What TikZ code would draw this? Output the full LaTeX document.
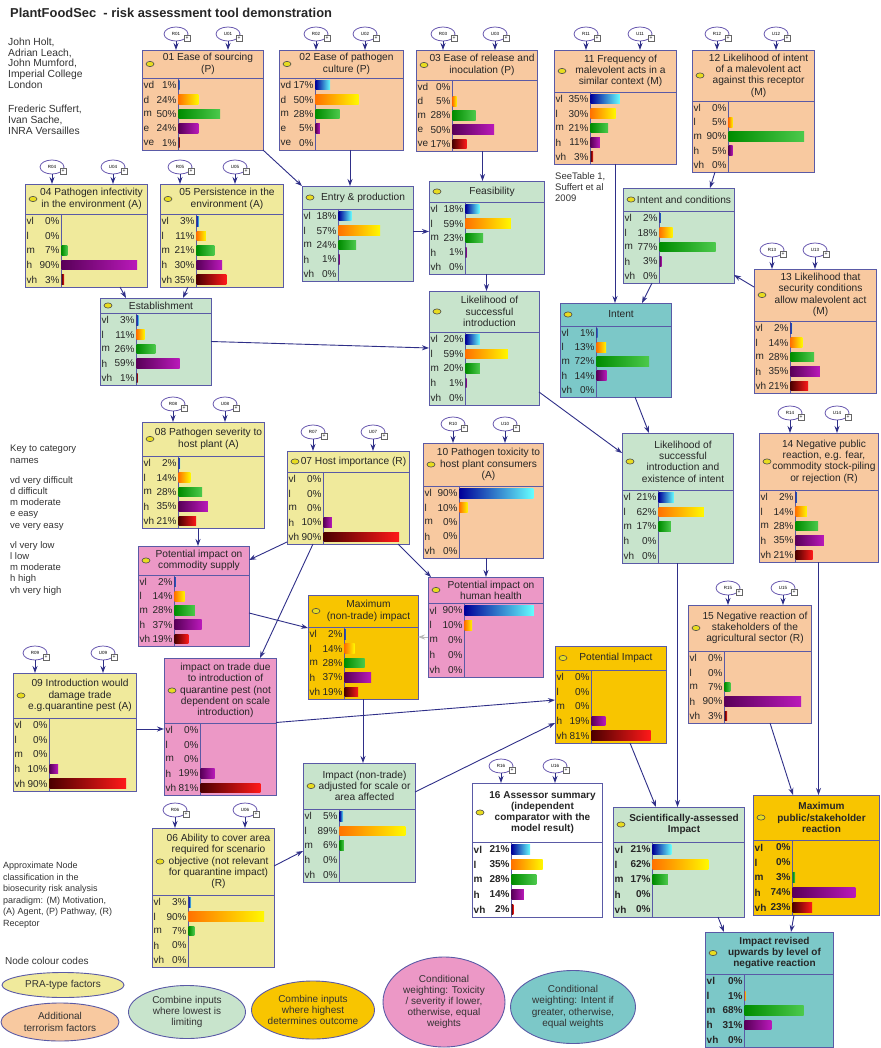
\documentclass[tikz,border=0pt]{standalone}
\usepackage{fontspec}
\setmainfont{Liberation Sans}
\usetikzlibrary{shapes.geometric,arrows.meta}

\definecolor{cpeach}{HTML}{F8C9A0}
\definecolor{cyel}{HTML}{F0EA9C}
\definecolor{cgreen}{HTML}{C8E4CC}
\definecolor{corange}{HTML}{F8C500}
\definecolor{cpink}{HTML}{EC98C6}
\definecolor{cteal}{HTML}{7CC8C8}
\definecolor{cborder}{HTML}{5A5AA6}
\definecolor{carrow}{HTML}{2F2F88}
\definecolor{cicon}{HTML}{E8DC20}
\definecolor{cruell}{HTML}{6A5AB0}

\newif\ifboldnode
\newcommand{\bn}[9]{%
  \ifboldnode\def\lcw{39}\def\nf{\bfseries}\def\tts{ttextb}\else\def\lcw{36}\def\nf{}\def\tts{ttext}\fi
  \pgfmathsetmacro{\bxr}{#2+#4}%
  \pgfmathsetmacro{\bym}{(#3+#5)/2}%
  \pgfmathsetmacro{\brh}{(#6-#5)/5}%
  \pgfmathsetmacro{\bsc}{(#4-\lcw-2)/100}%
  \node[nbox, fill=#7, minimum width=#4pt, minimum height={(#6-#3)*1pt}, anchor=north west] (#1) at (#2,#3) {};
  \draw[nline] (#2,#5) -- (\bxr,#5);
  \draw[nline] ({#2+\lcw},#5) -- ({#2+\lcw},#6);
  \draw[draw=black!70, fill=cicon, line width=0.6pt] ({#2+8},\bym) ellipse (4pt and 2.6pt);
  \node[\tts] at ({#2+#4/2+5.5},\bym) {#8};
  \foreach \lab/\val [count=\i] in {#9} {%
    \pgfmathsetmacro{\yc}{#5+(\i-0.5)*\brh}%
    \node[lab, anchor=west] at ({#2+1.5},\yc) {\nf\lab};
    \node[lab, anchor=east] at ({#2+\lcw-1.2},\yc) {\nf\val\%};
    \ifnum\val>0
      \pgfmathsetmacro{\bw}{max(1.2,\val*\bsc)}%
      \path[bar\i] ({#2+\lcw+0.5},{\yc-4.8}) rectangle ++(\bw,9.6);
    \fi
  }%
}
\newcommand{\ru}[4]{%
  \node[ruell] (#1) at (#3) {#2};
  \node[rubox] at ([xshift=11pt,yshift=-4pt]#1.center) {+};
  \draw[arr] (#1.south) -- (#1.south |- #4.north);
}

\tikzset{
  nbox/.style={draw=cborder, line width=0.9pt, rectangle, inner sep=0pt, outer sep=0pt},
  nline/.style={draw=cborder, line width=0.9pt},
  ttext/.style={align=center, inner sep=0pt, font=\fontsize{10.2}{11.3}\selectfont, text=black!85},
  ttextb/.style={align=center, inner sep=0pt, font=\fontsize{10}{11.3}\selectfont\bfseries, text=black!85},
  lab/.style={inner sep=0pt, font=\fontsize{10}{11}\selectfont, text=black!85},
  arr/.style={draw=carrow, line width=0.9pt, -{Stealth[length=7pt,width=5pt]}},
  garr/.style={draw=gray!55, line width=0.9pt, -{Stealth[length=7pt,width=5pt]}},
  bar1/.style={left color=blue!60!black, right color=cyan!60},
  bar2/.style={left color=orange!90!red, right color=yellow!95!orange},
  bar3/.style={left color=green!55!black, right color=green!70!black!70},
  bar4/.style={left color=violet!70!black, right color=magenta!70!black!90},
  bar5/.style={left color=red!30!black, right color=red!90},
  ruell/.style={ellipse, draw=cruell, line width=0.8pt, fill=white, minimum width=24pt, minimum height=14pt, inner sep=0pt, font=\fontsize{4.5}{5}\selectfont},
  rubox/.style={rectangle, draw=gray!80!black, line width=0.5pt, fill=white, minimum size=6pt, inner sep=0pt, font=\fontsize{5}{5}\selectfont},
  ftext/.style={anchor=north west, align=left, inner sep=0pt, text=black!80},
  legell/.style={ellipse, draw=cborder, line width=0.9pt, inner sep=0pt},
  legtxt/.style={align=center, inner sep=0pt, font=\fontsize{10}{11.2}\selectfont, text=black!80}
}

\begin{document}
\begin{tikzpicture}[x=1pt,y=-1pt]
\useasboundingbox (0,0) rectangle (880,1048);
\fill[white] (0,0) rectangle (880,1048);

\node[anchor=base west, inner sep=0pt, font=\bfseries\fontsize{12.9}{14}\selectfont, text=black!85] (title) at (10,17.5) {PlantFoodSec\ \ - risk assessment tool demonstration};

\node[ftext, font=\fontsize{10.3}{10.6}\selectfont] (au1) at (8,38) {John Holt,\\Adrian Leach,\\John Mumford,\\Imperial College\\London};
\node[ftext, font=\fontsize{10.3}{11}\selectfont] (au2) at (8,105) {Frederic Suffert,\\Ivan Sache,\\INRA Versailles};
\node[ftext, font=\fontsize{9.5}{11.3}\selectfont] (key1) at (10,445) {Key to category\\names};
\node[ftext, font=\fontsize{9.5}{11.3}\selectfont] (key2) at (10,476) {vd very difficult\\d difficult\\m moderate\\e easy\\ve very easy};
\node[ftext, font=\fontsize{9.5}{11.3}\selectfont] (key3) at (10,541) {vl very low\\l low\\m moderate\\h high\\vh very high};
\node[ftext, font=\fontsize{9}{11.5}\selectfont] (apx) at (3,862) {Approximate Node\\classification in the\\biosecurity risk analysis\\paradigm: (M) Motivation,\\(A) Agent, (P) Pathway, (R)\\Receptor};
\node[ftext, font=\fontsize{10}{11}\selectfont] (ncc) at (5,957) {Node colour codes};
\node[ftext, font=\fontsize{9.5}{11}\selectfont] (see) at (555,172) {SeeTable 1,\\Suffert et al\\2009};

% nodes
\bn{n01}{142}{50}{121}{78}{150}{cpeach}{01 Ease of sourcing\\(P)}{vd/1,d/24,m/50,e/24,ve/1}
\bn{n02}{279}{50}{124}{78}{150}{cpeach}{02 Ease of pathogen\\culture (P)}{vd/17,d/50,m/28,e/5,ve/0}
\bn{n03}{416}{50}{121}{80}{151}{cpeach}{03 Ease of release and\\inoculation (P)}{vd/0,d/5,m/28,e/50,ve/17}
\bn{n11}{554}{50}{122}{92}{164}{cpeach}{11 Frequency of\\malevolent acts in a\\similar context (M)}{vl/35,l/30,m/21,h/11,vh/3}
\bn{n12}{692}{50}{122}{101}{172}{cpeach}{12 Likelihood of intent\\of a malevolent act\\against this receptor\\(M)}{vl/0,l/5,m/90,h/5,vh/0}
\bn{n04}{25}{184}{122}{214}{287}{cyel}{04 Pathogen infectivity\\in the environment (A)}{vl/0,l/0,m/7,h/90,vh/3}
\bn{n05}{160}{184}{123}{214}{287}{cyel}{05 Persistence in the\\environment (A)}{vl/3,l/11,m/21,h/30,vh/35}
\bn{ep}{302}{186}{111}{209}{281}{cgreen}{Entry \& production}{vl/18,l/57,m/24,h/1,vh/0}
\bn{fe}{429}{181}{115}{202}{274}{cgreen}{Feasibility}{vl/18,l/59,m/23,h/1,vh/0}
\bn{es}{100}{298}{111}{313}{385}{cgreen}{Establishment}{vl/3,l/11,m/26,h/59,vh/1}
\bn{lsi}{429}{291}{110}{332}{405}{cgreen}{Likelihood of\\successful\\introduction}{vl/20,l/59,m/20,h/1,vh/0}
\bn{ic}{623}{188}{111}{211}{283}{cgreen}{Intent and conditions}{vl/2,l/18,m/77,h/3,vh/0}
\bn{intent}{560}{303}{111}{326}{397}{cteal}{Intent}{vl/1,l/13,m/72,h/14,vh/0}
\bn{n13}{754}{269}{122}{321}{393}{cpeach}{13 Likelihood that\\security conditions\\allow malevolent act\\(M)}{vl/2,l/14,m/28,h/35,vh/21}
\bn{n08}{142}{422}{122}{456}{528}{cyel}{08 Pathogen severity to\\host plant (A)}{vl/2,l/14,m/28,h/35,vh/21}
\bn{n07}{287}{451}{122}{472}{544}{cyel}{07 Host importance (R)}{vl/0,l/0,m/0,h/10,vh/90}
\bn{n10}{423}{443}{120}{486}{558}{cpeach}{10 Pathogen toxicity to\\host plant consumers\\(A)}{vl/90,l/10,m/0,h/0,vh/0}
\bn{lsie}{622}{433}{111}{490}{563}{cgreen}{Likelihood of\\successful\\introduction and\\existence of intent}{vl/21,l/62,m/17,h/0,vh/0}
\bn{n14}{759}{433}{119}{490}{562}{cpeach}{14 Negative public\\reaction, e.g. fear,\\commodity stock-piling\\or rejection (R)}{vl/2,l/14,m/28,h/35,vh/21}
\bn{pcs}{138}{546}{111}{575}{646}{cpink}{Potential impact on\\commodity supply}{vl/2,l/14,m/28,h/37,vh/19}
\bn{phh}{428}{577}{115}{603}{677}{cpink}{Potential impact on\\human health}{vl/90,l/10,m/0,h/0,vh/0}
\bn{mnt}{308}{595}{110}{627}{699}{corange}{Maximum\\(non-trade) impact}{vl/2,l/14,m/28,h/37,vh/19}
\bn{n15}{688}{605}{123}{651}{723}{cpeach}{15 Negative reaction of\\stakeholders of the\\agricultural sector (R)}{vl/0,l/0,m/7,h/90,vh/3}
\bn{n09}{13}{673}{123}{718}{791}{cyel}{09 Introduction would\\damage trade\\e.g.quarantine pest (A)}{vl/0,l/0,m/0,h/10,vh/90}
\bn{itr}{164}{658}{112}{723}{795}{cpink}{impact on trade due\\to introduction of\\quarantine pest (not\\dependent on scale\\introduction)}{vl/0,l/0,m/0,h/19,vh/81}
\bn{pi}{555}{646}{111}{670}{743}{corange}{Potential Impact}{vl/0,l/0,m/0,h/19,vh/81}
\bn{ina}{303}{763}{112}{809}{882}{cgreen}{Impact (non-trade)\\adjusted for scale or\\area affected}{vl/5,l/89,m/6,h/0,vh/0}
\bn{n06}{152}{828}{122}{895}{967}{cyel}{06 Ability to cover area\\required for scenario\\objective (not relevant\\for quarantine impact)\\(R)}{vl/3,l/90,m/7,h/0,vh/0}
\boldnodetrue
\bn{n16}{472}{783}{130}{842}{917}{white}{16 Assessor summary\\(independent\\comparator with the\\model result)}{vl/21,l/35,m/28,h/14,vh/2}
\bn{sai}{613}{807}{131}{842}{917}{cgreen}{Scientifically-assessed\\Impact}{vl/21,l/62,m/17,h/0,vh/0}
\bn{mps}{753}{795}{126}{840}{915}{corange}{Maximum\\public/stakeholder\\reaction}{vl/0,l/0,m/3,h/74,vh/23}
\bn{iru}{705}{932}{128}{974}{1047}{cteal}{Impact revised\\upwards by level of\\negative reaction}{vl/0,l/1,m/68,h/31,vh/0}
\boldnodefalse

% R/U inputs
\ru{r01}{R01}{176,34}{n01} \ru{u01}{U01}{228,34}{n01}
\ru{r02}{R02}{316,34}{n02} \ru{u02}{U02}{365,34}{n02}
\ru{r03}{R03}{443,34}{n03} \ru{u03}{U03}{495,34}{n03}
\ru{r11}{R11}{586,34}{n11} \ru{u11}{U11}{640,34}{n11}
\ru{r12}{R12}{717,34}{n12} \ru{u12}{U12}{776,34}{n12}
\ru{r04}{R04}{52,167}{n04} \ru{u04}{U04}{113,167}{n04}
\ru{r05}{R05}{180,167}{n05} \ru{u05}{U05}{235,167}{n05}
\ru{r13}{R13}{772,250}{n13} \ru{u13}{U13}{815,250}{n13}
\ru{r08}{R08}{173,404}{n08} \ru{u08}{U08}{225,404}{n08}
\ru{r07}{R07}{313,432}{n07} \ru{u07}{U07}{373,432}{n07}
\ru{r10}{R10}{453,424}{n10} \ru{u10}{U10}{505,424}{n10}
\ru{r14}{R14}{790,413}{n14} \ru{u14}{U14}{837,413}{n14}
\ru{r15}{R15}{728,588}{n15} \ru{u15}{U15}{783,588}{n15}
\ru{r09}{R09}{35,653}{n09} \ru{u09}{U09}{103,653}{n09}
\ru{r06}{R06}{175,810}{n06} \ru{u06}{U06}{245,810}{n06}
\ru{r16}{R16}{501,766}{n16} \ru{u16}{U16}{555,766}{n16}

% connectors
\draw[arr] (n01.south east) -- (ep.north west);
\draw[arr] ([xshift=9pt]n02.south) -- ([xshift=9pt]n02.south |- ep.north);
\draw[arr] ([xshift=6pt]n03.south) -- ([xshift=6pt]n03.south |- fe.north);
\draw[arr] ([yshift=2pt]ep.east) -- ([yshift=2pt]ep.east -| fe.west);
\draw[arr] ([xshift=-27pt]n04.south east) -- ([xshift=26pt]es.north west);
\draw[arr] ([xshift=28pt]n05.south west) -- ([xshift=83pt]es.north west);
\draw[arr] (es.east) -- (lsi.west);
\draw[arr] (fe.south) -- (fe.south |- lsi.north);
\draw[arr] (n11.south) -- (n11.south |- intent.north);
\draw[arr] ([xshift=23pt]n12.south west) -- ([xshift=87pt]ic.north west);
\draw[arr] ([yshift=-18pt]n13.north west) -- ([yshift=8pt]ic.south east);
\draw[arr] ([xshift=29pt]ic.south west) -- ([xshift=82pt]intent.north west);
\draw[arr] ([yshift=13pt]lsi.south east) -- ([yshift=-20pt]lsie.north west);
\draw[arr] ([xshift=75pt]intent.south west) -- ([xshift=27pt]lsie.north west);
\draw[arr] ([xshift=-5pt]n08.south) -- ([xshift=-5pt]n08.south |- pcs.north);
\draw[arr] ([yshift=2pt]n07.south west) -- ([yshift=-14pt]pcs.north east);
\draw[arr] ([xshift=26pt]n07.south west) -- ([xshift=96pt]itr.north west);
\draw[arr] ([xshift=-11pt]n07.south east) -- ([xshift=3pt]phh.north west);
\draw[arr] ([xshift=3pt]n10.south) -- ([xshift=3pt]n10.south |- phh.north);
\draw[arr] ([yshift=-67pt]pcs.north east) -- ([yshift=-33pt]mnt.north west);
\draw[garr] ([yshift=-60pt]phh.north west) -- ([yshift=-60pt]phh.north west -| mnt.east);
\draw[arr] (mnt.south) -- (mnt.south |- ina.north);
\draw[arr] ([yshift=3pt]n09.east) -- ([yshift=3pt]n09.east -| itr.west);
\draw[arr] ([yshift=4pt]itr.east) -- ([yshift=-54pt]pi.north west);
\draw[arr] ([yshift=-29pt]ina.north east) -- ([yshift=-77pt]pi.north west);
\draw[arr] ([yshift=-38pt]n06.north east) -- ([yshift=-88pt]ina.north west);
\draw[arr] ([xshift=75pt]pi.south west) -- ([xshift=43pt]sai.north west);
\draw[arr] (lsie.south) -- (lsie.south |- sai.north);
\draw[arr] ([xshift=82pt]n15.south west) -- ([xshift=40pt]mps.north west);
\draw[arr] (n14.south) -- (n14.south |- mps.north);
\draw[arr] ([xshift=105pt]sai.south west) -- ([xshift=19pt]iru.north west);
\draw[arr] ([xshift=41pt]mps.south west) -- ([xshift=86pt]iru.north west);

% legend
\node[legell, fill=cyel, minimum width=122pt, minimum height=25pt] (lg1) at (63,985) {};
\node[legtxt] at (lg1.center) {PRA-type factors};
\node[legell, fill=cpeach, minimum width=118pt, minimum height=38pt] (lg2) at (60,1022) {};
\node[legtxt] at (lg2.center) {Additional\\terrorism factors};
\node[legell, fill=cgreen, minimum width=117pt, minimum height=53pt] (lg3) at (187,1012) {};
\node[legtxt] at (lg3.center) {Combine inputs\\where lowest is\\limiting};
\node[legell, fill=corange, minimum width=123pt, minimum height=58pt] (lg4) at (313,1010) {};
\node[legtxt] at (lg4.center) {Combine inputs\\where highest\\determines outcome};
\node[legell, fill=cpink, minimum width=122pt, minimum height=90pt] (lg5) at (444,1002) {};
\node[legtxt] at (lg5.center) {Conditional\\weighting: Toxicity\\/ severity if lower,\\otherwise, equal\\weights};
\node[legell, fill=cteal, minimum width=125pt, minimum height=73pt] (lg6) at (573,1007) {};
\node[legtxt] at (lg6.center) {Conditional\\weighting: Intent if\\greater, otherwise,\\equal weights};
\end{tikzpicture}
\end{document}
